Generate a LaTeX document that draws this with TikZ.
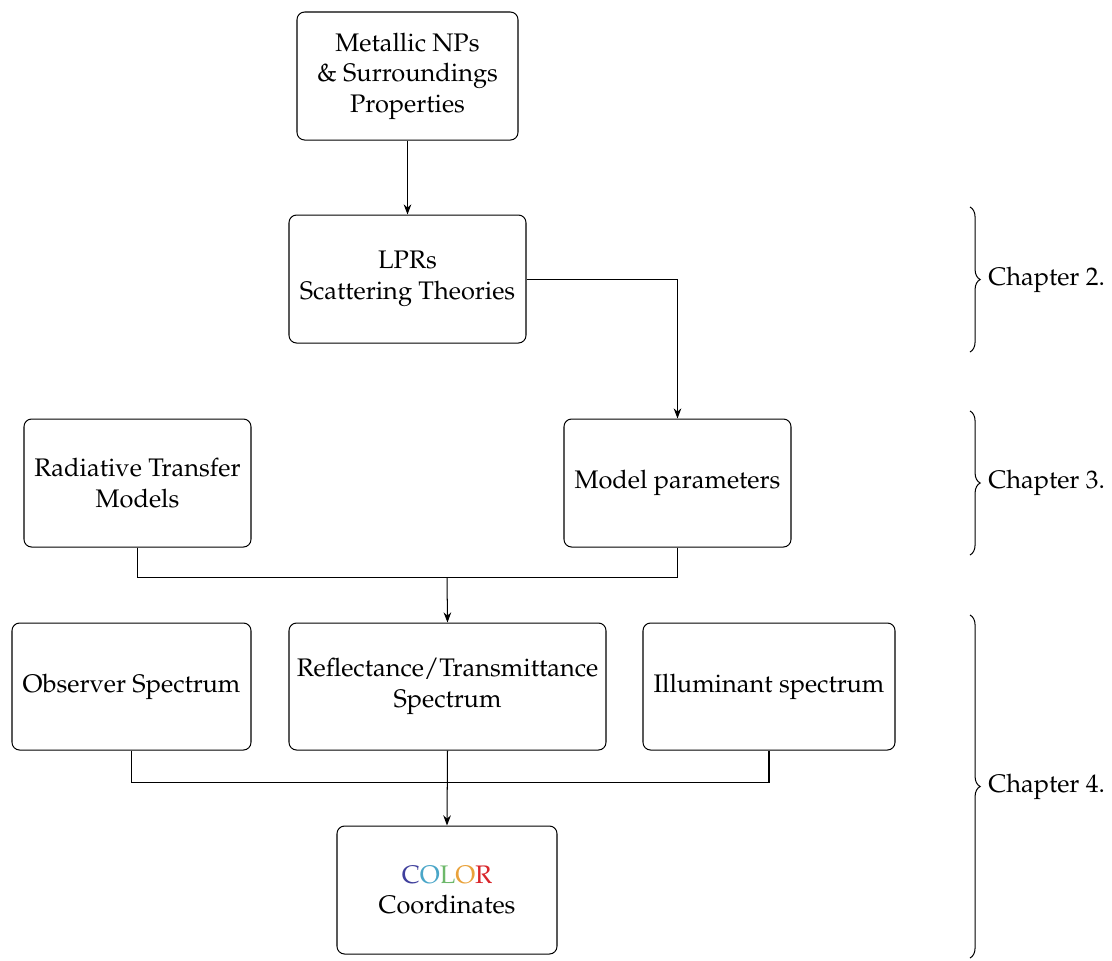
\documentclass[tikz,border=0pt]{standalone}
\usepackage[T1]{fontenc}
\usepackage{mathpazo}
\usetikzlibrary{arrows.meta,decorations.pathreplacing,calc}
\definecolor{cC}{HTML}{3F3F9C}
\definecolor{cO}{HTML}{4AA6C8}
\definecolor{cL}{HTML}{6DB86A}
\definecolor{cO2}{HTML}{E9A23B}
\definecolor{cR}{HTML}{D8262B}
\tikzset{
  box/.style={draw, rounded corners=3pt, align=center, inner sep=0pt},
  arr/.style={-{Stealth[length=4pt,width=3pt]}},
  brc/.style={decorate, decoration={brace, amplitude=4pt}},
}
\begin{document}
\begin{tikzpicture}[x={(0.3937pt,0)}, y={(0,-0.3937pt)}]
\useasboundingbox (0,0) rectangle (1112,960);
\newcommand{\bx}[6]{\node[box, minimum width={(#4-#2)*0.3937pt}, minimum height={(#5-#3)*0.3937pt}] (#1) at ({(#2+#4)/2},{(#3+#5)/2}) {#6};}
\bx{met}{297}{12}{518}{140}{Metallic NPs\\ \& Surroundings\\ Properties}
\bx{lpr}{289}{215}{526}{343}{LPRs\\ Scattering Theories}
\bx{rad}{24}{419}{251}{547}{Radiative Transfer\\ Models}
\bx{mod}{564}{419}{791}{547}{Model parameters}
\bx{obs}{12}{623}{251}{750}{Observer Spectrum}
\bx{ref}{289}{623}{606}{750}{Reflectance/Transmittance\\ Spectrum}
\bx{ill}{643}{623}{895}{750}{Illuminant spectrum}
\bx{col}{337}{826}{557}{954}{\textcolor{cC}{C}\textcolor{cO}{O}\textcolor{cL}{L}\textcolor{cO2}{O}\textcolor{cR}{R}\\ Coordinates}

\coordinate (j1) at (447,577);
\coordinate (j2) at (447,782);
\draw[arr] (met.south) -- (lpr.south |- met.south) -- (lpr.north);
\draw[arr] (lpr.east) -| (mod.north);
\draw (rad.south) |- (j1) -| (mod.south);
\draw[arr] (j1) -- (ref.north);
\draw (obs.south) |- (j2) -| (ill.south);
\draw[arr] (ref.south) -- (col.north);

\coordinate (b2t) at (970,207); \coordinate (b2b) at (970,352);
\coordinate (b3t) at (970,411); \coordinate (b3b) at (970,555);
\coordinate (b4t) at (970,615); \coordinate (b4b) at (970,958);
\draw[brc] (b2t) -- (b2b) node[midway, right=7pt, inner sep=0pt] (c2) {Chapter 2.};
\draw[brc] (b3t) -- (b3b) node[midway, right=7pt, inner sep=0pt] (c3) {Chapter 3.};
\draw[brc] (b4t) -- (b4b) node[midway, right=7pt, inner sep=0pt] (c4) {Chapter 4.};
\end{tikzpicture}
\end{document}
